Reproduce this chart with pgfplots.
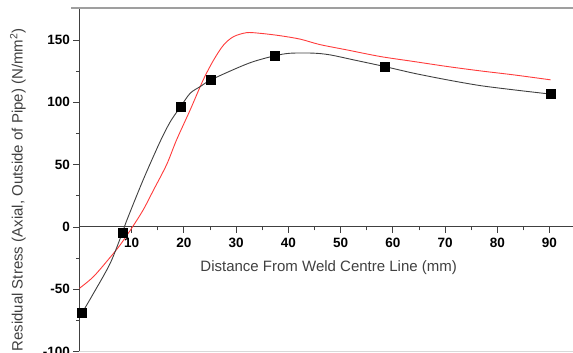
\documentclass[border=0pt]{standalone}
\usepackage{fontspec}
\setmainfont{Liberation Sans}
\usepackage{pgfplots}
\pgfplotsset{compat=1.18}
\definecolor{curvered}{HTML}{FF3B3B}
\definecolor{curveblack}{HTML}{404040}
\begin{document}
\begin{tikzpicture}
\begin{axis}[
  scale only axis, width=493.6pt, height=343.7pt,
  xmin=0, xmax=94.5, ymin=-100, ymax=175.6,
  axis x line*=middle, axis y line*=left,
  axis line style={curveblack, line width=1pt},
  xtick={10,20,...,90}, ytick={-100,-50,...,150},
  minor x tick num=1, minor y tick num=1,
  tick align=outside,
  major tick length=6pt, minor tick length=3.5pt,
  tick style={curveblack, line width=0.8pt},
  /pgf/number format/assume math mode=true,
  tick label style={font=\bfseries\fontsize{13.5}{14}\selectfont},
  xticklabel style={yshift=-2pt},
  xlabel={Distance From Weld Centre Line (mm)},
  ylabel={Residual Stress (Axial, Outside of Pipe) (N/mm\textsuperscript{2})},
  label style={font=\fontsize{15}{16}\selectfont, text=curveblack},
  xlabel style={at={(axis description cs:0.505,0.2435)}, anchor=center},
  ylabel style={at={(axis description cs:-0.1244,0.4705)}, anchor=center, rotate=0},
  clip=false,
]
\addplot[curvered, line width=0.9pt, smooth, tension=0.5] coordinates {
(0,-49.2) (2.7,-39.8) (5.9,-24.3) (7.8,-14.4) (10,-1) (12.2,13.6) (14.2,29.7)
(16.7,50) (18.6,69.8) (21.2,93.8) (23.7,117.9) (25.7,133.9) (27.6,145.9)
(29.5,152.6) (32,155.8) (34.6,155.3) (38.4,153.4) (42.3,150.6) (46,146.3)
(51.2,142) (57.6,136.7) (64,132.7) (70.4,128.7) (76.7,125.2) (83.1,122) (90.2,118)
};
\addplot[curveblack, line width=0.9pt, smooth, tension=0.5] coordinates {
(0.5,-69) (2.7,-53.2) (5.9,-29.1) (8.2,-4.8) (9.1,5.6) (12.2,37.7) (15.4,68)
(17.4,84.4) (19.3,96) (21.2,107.2) (23.1,112.5) (25.2,118) (30.1,127.3)
(33.3,132.6) (37.3,137.2) (40.3,139.3) (44.8,139.4) (48,138) (52.5,134)
(58.4,128.7) (64,123.3) (70.4,118) (76.7,113.4) (83.1,110) (90.3,106.5)
};
\addplot[only marks, mark=square*, mark size=4.5pt, black] coordinates {
(0.5,-69) (8.2,-4.8) (19.3,96.3) (25.2,118) (37.3,137.2) (58.4,128.7) (90.3,106.5)
};
\draw[gray!75, line width=1.6pt] ([xshift=-8pt]rel axis cs:0,1) -- (rel axis cs:1,1);
\draw[gray!30, line width=1pt] (rel axis cs:0,0) -- (rel axis cs:1,0);
\end{axis}
\pgfresetboundingbox
\useasboundingbox (-79.4pt,-1.3pt) rectangle (493.6pt,351.7pt);
\end{tikzpicture}
\end{document}
